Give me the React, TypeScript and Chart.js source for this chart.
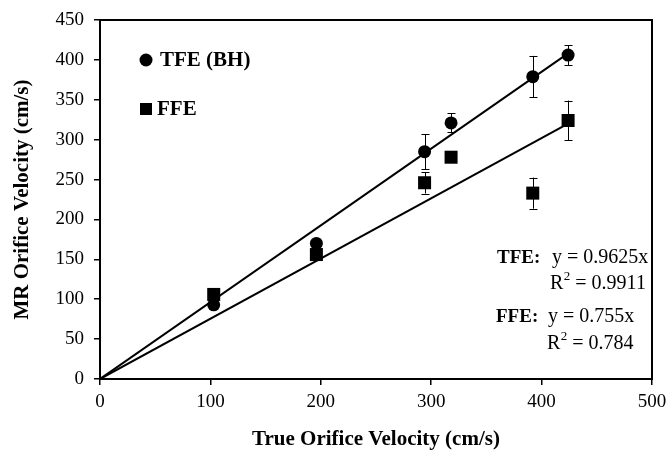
import React, { useEffect, useRef } from "react";
import { Chart, registerables } from "chart.js";

Chart.register(...registerables);

// ---- data ----
const tfeLabel = "TFE (BH)";
const ffeLabel = "FFE";
const tfeX = [103, 196, 294, 318, 392, 424];
const tfeY = [93, 170, 285, 321, 379, 406];
const tfeErr = [0, 0, 22, 12, 26, 12.5];
const ffeX = [103, 196, 294, 318, 392, 424];
const ffeY = [106, 156, 246, 278, 233, 324];
const ffeErr = [0, 0, 13.5, 0, 19.5, 25];
const tfeTrendX = [0, 424];
const tfeTrendY = [0, 408.1];
const ffeTrendX = [0, 424];
const ffeTrendY = [0, 320.1];
const xTitle = "True Orifice Velocity (cm/s)";
const yTitle = "MR Orifice Velocity (cm/s)";
const tfeEqLabel = "TFE:";
const tfeEq = "y = 0.9625x";
const tfeR2 = " = 0.9911";
const ffeEqLabel = "FFE:";
const ffeEq = "y = 0.755x";
const ffeR2 = " = 0.784";

const FONT = "'Liberation Serif', 'Times New Roman', serif";

const toPts = (xs: number[], ys: number[]) => xs.map((x, i) => ({ x, y: ys[i] }));

const errorBarPlugin = {
  id: "errorBars",
  afterDatasetsDraw(chart: any) {
    const ctx = chart.ctx;
    const xs = chart.scales.x;
    const ys = chart.scales.y;
    const sets = [
      { x: tfeX, y: tfeY, e: tfeErr },
      { x: ffeX, y: ffeY, e: ffeErr },
    ];
    ctx.save();
    ctx.strokeStyle = "#000";
    ctx.lineWidth = 1;
    sets.forEach((s) => {
      s.x.forEach((xv, i) => {
        const err = s.e[i];
        if (!err) return;
        const px = Math.round(xs.getPixelForValue(xv)) + 0.5;
        const top = ys.getPixelForValue(s.y[i] + err);
        const bot = ys.getPixelForValue(s.y[i] - err);
        ctx.beginPath();
        ctx.moveTo(px, top);
        ctx.lineTo(px, bot);
        ctx.moveTo(px - 4, Math.round(top) + 0.5);
        ctx.lineTo(px + 4, Math.round(top) + 0.5);
        ctx.moveTo(px - 4, Math.round(bot) + 0.5);
        ctx.lineTo(px + 4, Math.round(bot) + 0.5);
        ctx.stroke();
      });
    });
    ctx.restore();
  },
};

const framePlugin = {
  id: "frame",
  afterDraw(chart: any) {
    const { ctx, chartArea: a } = chart;
    ctx.save();
    ctx.strokeStyle = "#000";
    ctx.lineWidth = 2;
    ctx.strokeRect(a.left, a.top, a.right - a.left, a.bottom - a.top);
    ctx.restore();
  },
};

const textPlugin = {
  id: "texts",
  afterDraw(chart: any) {
    const ctx = chart.ctx;
    ctx.save();
    ctx.fillStyle = "#000";
    ctx.textBaseline = "middle";
    ctx.textAlign = "left";
    // legend
    ctx.beginPath();
    ctx.arc(146, 60, 6.5, 0, Math.PI * 2);
    ctx.fill();
    ctx.fillRect(140, 103, 12, 12);
    ctx.font = `bold 21px ${FONT}`;
    ctx.fillText(tfeLabel, 160, 61);
    ctx.fillText(ffeLabel, 157, 110);

    const drawEq = (label: string, eq: string, r2: string, x0: number, xEq: number, xR: number, y1: number, y2: number) => {
      ctx.font = `bold 19px ${FONT}`;
      ctx.fillText(label, x0, y1);
      ctx.font = `20px ${FONT}`;
      ctx.fillText(eq, xEq, y1);
      ctx.fillText("R", xR, y2);
      const rw = ctx.measureText("R").width;
      ctx.font = `13px ${FONT}`;
      ctx.fillText("2", xR + rw + 0.5, y2 - 7);
      const tw = ctx.measureText("2").width;
      ctx.font = `20px ${FONT}`;
      ctx.fillText(r2, xR + rw + tw + 0.5, y2);
    };
    drawEq(tfeEqLabel, tfeEq, tfeR2, 497, 552, 550, 258, 284);
    drawEq(ffeEqLabel, ffeEq, ffeR2, 496, 548, 547, 317, 344);
    ctx.restore();
  },
};

export default function App() {
  const ref = useRef<HTMLCanvasElement | null>(null);
  useEffect(() => {
    document.body.style.margin = "0";
    if (!ref.current) return;
    const chart = new Chart(ref.current, {
      type: "scatter",
      data: {
        datasets: [
          {
            label: tfeLabel,
            data: toPts(tfeX, tfeY),
            pointStyle: "circle",
            pointRadius: 6.5,
            backgroundColor: "#000",
            borderColor: "#000",
            borderWidth: 0,
          },
          {
            label: ffeLabel,
            data: toPts(ffeX, ffeY),
            pointStyle: "rect",
            pointRadius: 9.2,
            backgroundColor: "#000",
            borderColor: "#000",
            borderWidth: 0,
          },
          {
            type: "line",
            label: "TFE fit",
            data: toPts(tfeTrendX, tfeTrendY),
            borderColor: "#000",
            borderWidth: 2,
            pointRadius: 0,
            fill: false,
          },
          {
            type: "line",
            label: "FFE fit",
            data: toPts(ffeTrendX, ffeTrendY),
            borderColor: "#000",
            borderWidth: 2,
            pointRadius: 0,
            fill: false,
          },
        ] as any,
      },
      options: {
        animation: false,
        responsive: false,
        maintainAspectRatio: false,
        layout: { padding: { left: 0, top: 20, right: 15, bottom: 0 } },
        plugins: {
          legend: { display: false },
          tooltip: { enabled: false },
        },
        scales: {
          x: {
            type: "linear",
            min: 0,
            max: 500,
            afterFit: (s: any) => {
              s.height = 73;
              s.paddingLeft = 0;
              s.paddingRight = 0;
            },
            ticks: {
              stepSize: 100,
              color: "#000",
              font: { family: FONT, size: 19 },
              padding: 6,
              maxRotation: 0,
            },
            grid: {
              display: true,
              drawOnChartArea: false,
              drawTicks: true,
              tickLength: 6,
              color: "#000",
              lineWidth: 1.5,
            },
            border: { display: true, color: "#000", width: 2 },
            title: {
              display: true,
              text: xTitle,
              color: "#000",
              font: { family: FONT, size: 21, weight: "bold" },
              padding: { top: 0, bottom: 0 },
            },
          },
          y: {
            type: "linear",
            min: 0,
            max: 450,
            afterFit: (s: any) => {
              s.width = 100;
              s.paddingTop = 0;
              s.paddingBottom = 0;
            },
            ticks: {
              stepSize: 50,
              color: "#000",
              font: { family: FONT, size: 19 },
              padding: 10,
            },
            grid: {
              display: true,
              drawOnChartArea: false,
              drawTicks: true,
              tickLength: 6,
              color: "#000",
              lineWidth: 1.5,
            },
            border: { display: true, color: "#000", width: 2 },
            title: {
              display: true,
              text: yTitle,
              color: "#000",
              font: { family: FONT, size: 21, weight: "bold" },
              padding: { top: 10, bottom: 0 },
            },
          },
        },
      } as any,
      plugins: [errorBarPlugin, framePlugin, textPlugin],
    });
    return () => chart.destroy();
  }, []);
  return (
    <div style={{ width: 667, height: 452 }}>
      <canvas ref={ref} width={667} height={452} style={{ width: 667, height: 452, display: "block" }} />
    </div>
  );
}
